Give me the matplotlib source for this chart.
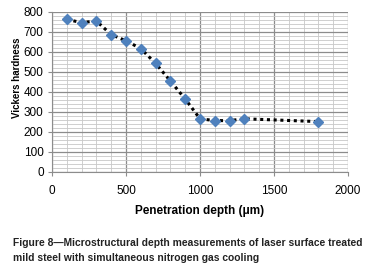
import matplotlib
matplotlib.use("Agg")
import matplotlib.pyplot as plt
from matplotlib.ticker import MultipleLocator

depth = [100, 200, 300, 400, 500, 600, 700, 800, 900, 1000, 1100, 1200, 1300, 1800]
hardness = [763, 747, 755, 687, 656, 617, 543, 455, 365, 266, 257, 257, 266, 252]
xticks = [0, 500, 1000, 1500, 2000]
yticks = [0, 100, 200, 300, 400, 500, 600, 700, 800]

plt.rcParams['font.family'] = ['Liberation Sans', 'DejaVu Sans']

fig = plt.figure(figsize=(3.73, 2.78), dpi=100)
ax = fig.add_axes([52/373, 1-172/278, (348-52)/373, (172-12)/278])

ax.set_xlim(0, 2000)
ax.set_ylim(0, 800)
ax.set_xticks(xticks)
ax.set_yticks(yticks)
ax.xaxis.set_minor_locator(MultipleLocator(100))
ax.yaxis.set_minor_locator(MultipleLocator(20))
ax.grid(which='major', color='#8c8c8c', linewidth=0.9)
ax.grid(which='minor', color='#c8c8c8', linewidth=0.6)
ax.set_axisbelow(True)
ax.tick_params(which='minor', length=0)
ax.tick_params(which='major', length=3, color='#8c8c8c', labelsize=8.5, pad=3)
ax.tick_params(axis='x', pad=6)
for s in ['top', 'right']:
    ax.spines[s].set_visible(False)
for s in ['left', 'bottom']:
    ax.spines[s].set_color('#8c8c8c')

ax.plot(depth, hardness, linestyle=(0, (1, 1.2)), color='black', linewidth=2.2, zorder=2)
ax.plot(depth, hardness, linestyle='none', marker='D', markersize=5,
        color='#4F81BD', zorder=3)

ax.set_xlabel('Penetration depth (\u03bcm)', fontsize=8.5, fontweight='bold', labelpad=6)
fig.text(17/373, 1-78/278, 'Vickers hardness', rotation=90, fontsize=7,
         fontweight='bold', ha='center', va='center')

fig.text(13/373, 1-243/278, 'Figure 8\u2014Microstructural depth measurements of laser surface treated',
         fontsize=7.4, fontweight='bold', ha='left', va='center', color='#222222')
fig.text(13/373, 1-258/278, 'mild steel with simultaneous nitrogen gas cooling',
         fontsize=7.4, fontweight='bold', ha='left', va='center', color='#222222')

fig.savefig('out.png', dpi=100)
